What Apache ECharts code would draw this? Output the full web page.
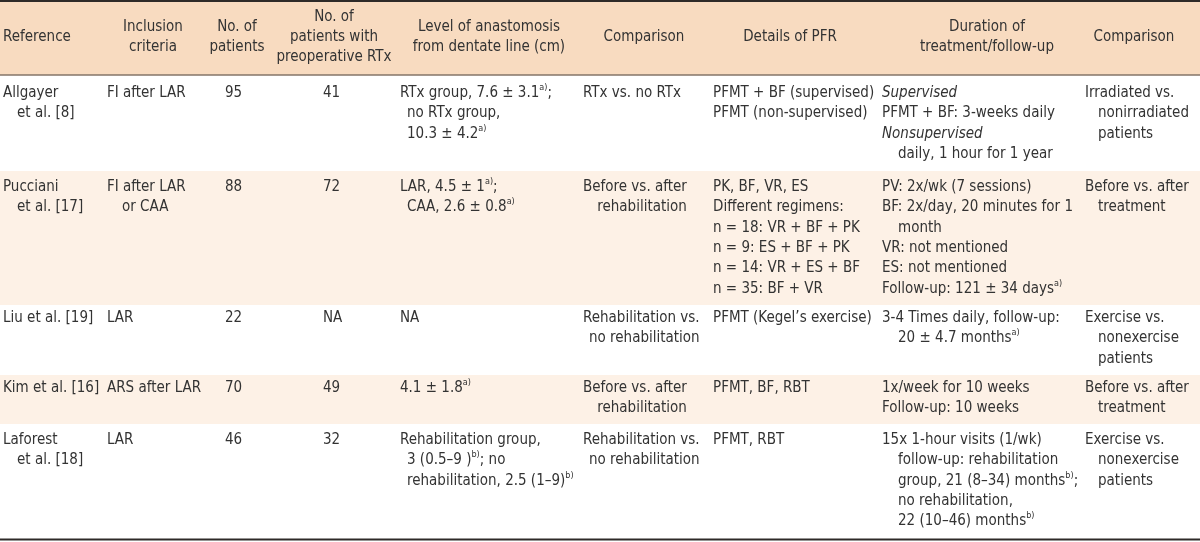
<!DOCTYPE html>
<html><head><meta charset="utf-8">
<script src="https://cdn.jsdelivr.net/npm/echarts@6/dist/echarts.min.js"></script>
<style>html,body{margin:0;padding:0;background:#fff}#c{width:1200px;height:542px}</style>
</head><body><div id="c"></div>
<script>
// ---------------- DATA ----------------
const headerLines = [
  ['Reference'],
  ['Inclusion', 'criteria'],
  ['No. of', 'patients'],
  ['No. of', 'patients with', 'preoperative RTx'],
  ['Level of anastomosis', 'from dentate line (cm)'],
  ['Comparison'],
  ['Details of PFR'],
  ['Duration of', 'treatment/follow-up'],
  ['Comparison']
];
// each text cell: list of paragraphs, each paragraph a list of wrapped lines
const references = [
  [['Allgayer', 'et al. [8]']],
  [['Pucciani', 'et al. [17]']],
  [['Liu et al. [19]']],
  [['Kim et al. [16]']],
  [['Laforest', 'et al. [18]']]
];
const inclusionCriteria = [
  [['FI after LAR']],
  [['FI after LAR', 'or CAA']],
  [['LAR']],
  [['ARS after LAR']],
  [['LAR']]
];
const noOfPatients = [95, 88, 22, 70, 46];
const preopRTx = [41, 72, 'NA', 49, 32];
const anastomosisLevel = [
  [['RTx group, 7.6 ± 3.1{sup|a)};', 'no RTx group,', '10.3 ± 4.2{sup|a)}']],
  [['LAR, 4.5 ± 1{sup|a)};', 'CAA, 2.6 ± 0.8{sup|a)}']],
  [['NA']],
  [['4.1 ± 1.8{sup|a)}']],
  [['Rehabilitation group,', '3 (0.5–9 ){sup|b)}; no', 'rehabilitation, 2.5 (1–9){sup|b)}']]
];
const comparison = [
  [['RTx vs. no RTx']],
  [['Before vs. after', 'rehabilitation']],
  [['Rehabilitation vs.', 'no rehabilitation']],
  [['Before vs. after', 'rehabilitation']],
  [['Rehabilitation vs.', 'no rehabilitation']]
];
const pfrDetails = [
  [['PFMT + BF (supervised)'], ['PFMT (non-supervised)']],
  [['PK, BF, VR, ES'], ['Different regimens:'], ['n = 18: VR + BF + PK'], ['n = 9: ES + BF + PK'], ['n = 14: VR + ES + BF'], ['n = 35: BF + VR']],
  [['PFMT (Kegel’s exercise)']],
  [['PFMT, BF, RBT']],
  [['PFMT, RBT']]
];
const duration = [
  [['{it|Supervised}'], ['PFMT + BF: 3-weeks daily'], ['{it|Nonsupervised}', 'daily, 1 hour for 1 year']],
  [['PV: 2x/wk (7 sessions)'], ['BF: 2x/day, 20 minutes for 1', 'month'], ['VR: not mentioned'], ['ES: not mentioned'], ['Follow-up: 121 ± 34 days{sup|a)}']],
  [['3-4 Times daily, follow-up:', '20 ± 4.7 months{sup|a)}']],
  [['1x/week for 10 weeks'], ['Follow-up: 10 weeks']],
  [['15x 1-hour visits (1/wk)', 'follow-up: rehabilitation', 'group, 21 (8–34) months{sup|b)};', 'no rehabilitation,', '22 (10–46) months{sup|b)}']]
];
const outcomeComparison = [
  [['Irradiated vs.', 'nonirradiated', 'patients']],
  [['Before vs. after', 'treatment']],
  [['Exercise vs.', 'nonexercise', 'patients']],
  [['Before vs. after', 'treatment']],
  [['Exercise vs.', 'nonexercise', 'patients']]
];

// ---------------- LAYOUT / STYLE ----------------
const W = 1200, H = 542;
const FONT_FAMILY = '"DejaVu Sans Condensed","Liberation Sans Narrow",sans-serif';
const FS = 15;
const TEXT = '#333333';
const colX = [3, 107, 225, 323, 400, 583, 713, 882, 1085];
const headerCenterX = [3, 153, 237, 334, 489, 644, 790, 987, 1134];
const contIndent = [14, 15, 0, 0, 7, 15, 0, 16, 13];
const rightAlignCont = [false, false, false, false, false, true, false, false, false];
const rowTops = [75, 171, 305, 375, 424, 539];
const rowPad = [18, 16, 13, 13, 16];
const bandColors = ['#ffffff', '#fdf1e6', '#ffffff', '#fdf1e6', '#ffffff'];
const HEADER_BG = '#f8dbc0';
const LH = 20.4;
const HEADER_CY = 37.5;

const rows = references.map((r, i) => [
  references[i], inclusionCriteria[i], [[String(noOfPatients[i])]], [[String(preopRTx[i])]],
  anastomosisLevel[i], comparison[i], pfrDetails[i], duration[i], outcomeComparison[i]
]);

const ctx = document.createElement('canvas').getContext('2d');
ctx.font = FS + 'px ' + FONT_FAMILY;
function plain(s) { return s.replace(/\{sup\|([^}]*)\}/g, '$1').replace(/\{it\|([^}]*)\}/g, '$1'); }
const rich = {
  sup: { fontSize: 9, fontFamily: FONT_FAMILY, fill: TEXT, verticalAlign: 'top', lineHeight: 9 },
  it: { fontSize: FS, fontFamily: FONT_FAMILY, fontStyle: 'italic', fill: TEXT, lineHeight: 20 }
};

function textEl(x, y, str, align) {
  return {
    type: 'text', x: x, y: y,
    style: { text: str, fill: TEXT, fontSize: FS, fontFamily: FONT_FAMILY, align: align || 'left', verticalAlign: 'middle', lineHeight: 20, rich: rich }
  };
}

// backgrounds
const bgData = [[0, 1, W, 75, -1]];
for (let r = 0; r < 5; r++) bgData.push([0, rowTops[r], W, rowTops[r + 1], r]);
// rules: y, width, color
const ruleData = [[1, 2, '#2e2a28'], [75, 1.6, '#857468'], [539.5, 2, '#2e2a28']];
// header cells
const headerData = headerLines.map((h, c) => [headerCenterX[c], HEADER_CY, c]);
// body cells
const cellData = [];
for (let r = 0; r < rows.length; r++) for (let c = 0; c < 9; c++) cellData.push([colX[c], rowTops[r] + rowPad[r], c, r]);

const chart = echarts.init(document.getElementById('c'), null, { renderer: 'canvas' });
chart.setOption({
  animation: false,
  grid: { left: 0, right: 0, top: 0, bottom: 0 },
  xAxis: { type: 'value', min: 0, max: W, show: false },
  yAxis: { type: 'value', min: 0, max: H, inverse: true, show: false },
  series: [
    {
      type: 'custom', data: bgData, silent: true, z: 1,
      renderItem: function (params, api) {
        const p0 = api.coord([api.value(0), api.value(1)]);
        const p1 = api.coord([api.value(2), api.value(3)]);
        const k = api.value(4);
        return { type: 'rect', shape: { x: p0[0], y: p0[1], width: p1[0] - p0[0], height: p1[1] - p0[1] },
          style: { fill: k < 0 ? HEADER_BG : bandColors[k] } };
      }
    },
    {
      type: 'custom', data: ruleData.map(d => [d[0], d[1]]), silent: true, z: 3,
      renderItem: function (params, api) {
        const y = api.coord([0, api.value(0)])[1];
        const x1 = api.coord([W, 0])[0];
        const d = ruleData[params.dataIndex];
        return { type: 'line', shape: { x1: 0, y1: y, x2: x1, y2: y }, style: { stroke: d[2], lineWidth: d[1] } };
      }
    },
    {
      type: 'custom', data: headerData, silent: true, z: 4,
      renderItem: function (params, api) {
        const c = api.value(2);
        const lines = headerLines[c];
        const p = api.coord([api.value(0), api.value(1)]);
        const children = lines.map((s, i) => textEl(p[0], p[1] + (i - (lines.length - 1) / 2) * 20, s, c === 0 ? 'left' : 'center'));
        return { type: 'group', children: children };
      }
    },
    {
      type: 'custom', data: cellData, silent: true, z: 4,
      renderItem: function (params, api) {
        const c = api.value(2), r = api.value(3);
        const p = api.coord([api.value(0), api.value(1)]);
        const cell = rows[r][c];
        const children = [];
        let k = 0;
        cell.forEach(par => {
          const firstW = ctx.measureText(plain(par[0])).width;
          par.forEach((ln, j) => {
            const y = p[1] + k * LH;
            if (j === 0) children.push(textEl(p[0], y, ln));
            else if (rightAlignCont[c]) children.push(textEl(p[0] + firstW, y, ln, 'right'));
            else children.push(textEl(p[0] + contIndent[c], y, ln));
            k++;
          });
        });
        return { type: 'group', children: children };
      }
    }
  ]
});
</script>
</body></html>
